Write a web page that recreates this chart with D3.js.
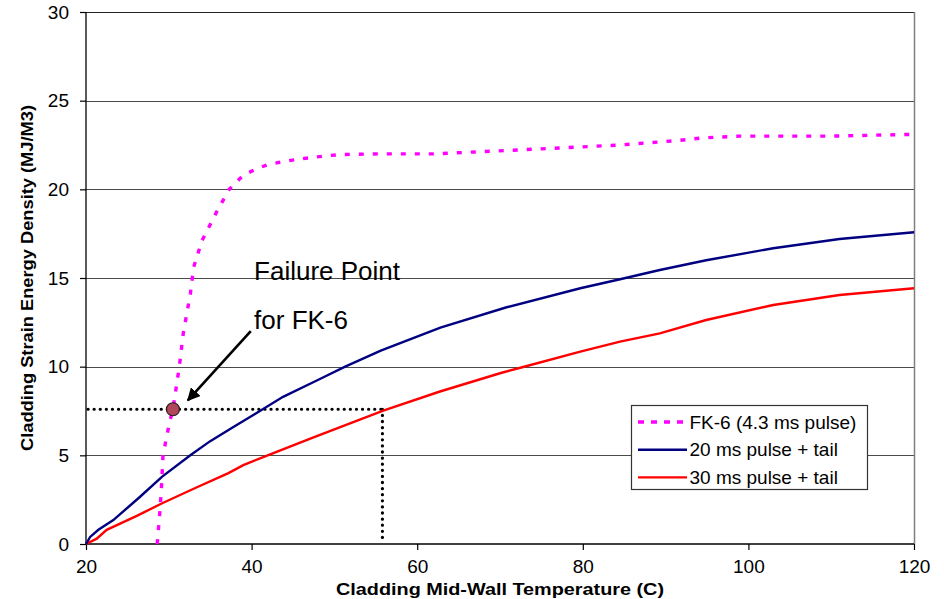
<!DOCTYPE html>
<html>
<head>
<meta charset="utf-8">
<script src="https://cdn.jsdelivr.net/npm/d3@7"></script>
<style>
  html, body { margin: 0; padding: 0; background: #fff; }
  svg { display: block; font-family: Arial, "Liberation Sans", sans-serif; }
</style>
</head>
<body>
<svg id="chart" width="944" height="599"></svg>
<script>
// ---------------- data ----------------
const xTicks = [20, 40, 60, 80, 100, 120];
const yTicks = [0, 5, 10, 15, 20, 25, 30];

const fk6Temp = [28.6, 28.9, 29.1, 29.3, 30.06, 30.5, 31.27, 31.75, 32.6, 33.0, 34.0, 35.8, 37.3, 39.0, 40.8, 42.0, 43.8, 45.6, 47.4, 49.2, 50.7, 55.5, 62, 69, 78, 84.5, 91.4, 94.5, 99, 110, 120];
const fk6Sed  = [0, 1.7, 3.05, 5.0, 6.8, 7.6, 10.0, 11.9, 14.1, 15.6, 17.1, 18.75, 20.0, 20.8, 21.2, 21.4, 21.56, 21.7, 21.8, 21.9, 21.96, 22.0, 22.0, 22.15, 22.35, 22.5, 22.75, 22.9, 23.0, 23.0, 23.1];

const p20Temp = [20, 20.5, 21.5, 23.3, 26.5, 29.2, 32.6, 35, 37.8, 41, 43.8, 48, 51.3, 55.6, 62.8, 70.8, 79.7, 84.5, 89.3, 94.9, 103, 111, 120];
const p20Sed  = [0, 0.4, 0.8, 1.35, 2.65, 3.8, 5.0, 5.8, 6.6, 7.5, 8.3, 9.25, 10.0, 10.9, 12.2, 13.35, 14.42, 14.93, 15.45, 16.0, 16.68, 17.2, 17.58];

const p30Temp = [20, 21.3, 22.5, 26.2, 29.2, 33.4, 37.2, 39, 41.4, 47.4, 55.9, 62.75, 70, 72.8, 79.7, 84.5, 89.3, 94.9, 103, 111, 120];
const p30Sed  = [0, 0.3, 0.8, 1.6, 2.3, 3.2, 4.0, 4.45, 4.9, 6.0, 7.52, 8.6, 9.63, 9.98, 10.85, 11.41, 11.88, 12.63, 13.48, 14.04, 14.42];

const seriesNames = ["FK-6 (4.3 ms pulse)", "20 ms pulse + tail", "30 ms pulse + tail"];

// failure point annotation (data coordinates)
const failPoint = [30.5, 7.6];
const failGuideX = 55.8;
const arrowFrom = [39.9, 12.0];
const arrowTo = [32.3, 8.1];
const noteLines = ["Failure Point", "for FK-6"];
const noteAnchor = [40.3, 14.9];
const noteLineGap = 2.75;

const xTitle = "Cladding Mid-Wall Temperature (C)";
const yTitle = "Cladding Strain Energy Density (MJ/M3)";

// ---------------- layout ----------------
const svg = d3.select("#chart");
const L = 86, R = 914, T = 12, B = 544;
const x = d3.scaleLinear().domain([20, 120]).range([L, R]);
const y = d3.scaleLinear().domain([0, 30]).range([B, T]);

// gridlines
svg.append("g").selectAll("line").data(yTicks.filter(d => d > 0 && d < 30)).join("line")
  .attr("x1", L).attr("x2", R)
  .attr("y1", d => Math.round(y(d)) + 0.5).attr("y2", d => Math.round(y(d)) + 0.5)
  .attr("stroke", "#4a4a4a").attr("stroke-width", 1);

// plot frame top & right
svg.append("line").attr("x1", L).attr("x2", R).attr("y1", Math.round(y(30)) + 0.5).attr("y2", Math.round(y(30)) + 0.5)
  .attr("stroke", "#222").attr("stroke-width", 1.2);
svg.append("line").attr("x1", R + 0.5).attr("x2", R + 0.5).attr("y1", y(30)).attr("y2", y(0))
  .attr("stroke", "#808080").attr("stroke-width", 1.5);

// axes
const yAxis = d3.axisLeft(y).tickValues(yTicks).tickSize(6).tickPadding(11).tickFormat(d3.format("d"));
const gy = svg.append("g").attr("transform", `translate(${L},0)`).call(yAxis);
const xAxis = d3.axisBottom(x).tickValues(xTicks).tickSize(6).tickPadding(10).tickFormat(d3.format("d"));
const gx = svg.append("g").attr("transform", `translate(0,${B})`).call(xAxis);
[gx, gy].forEach(g => {
  g.select(".domain").attr("stroke", "#000").attr("stroke-width", 1.3);
  g.selectAll(".tick line").attr("stroke", "#000").attr("stroke-width", 1.2);
  g.selectAll(".tick text").attr("fill", "#000").style("font-size", "19px")
    .style("font-family", "Arial, 'Liberation Sans', sans-serif");
});
gy.select(".domain").attr("d", `M0,${y(30)}V${y(0)}`);
gx.select(".domain").attr("d", `M${x(20)},0H${x(120)}`);

// axis titles
svg.append("text").attr("x", (L + R) / 2).attr("y", 595).attr("text-anchor", "middle")
  .attr("font-weight", "bold").attr("font-size", 16.5)
  .attr("textLength", 328).attr("lengthAdjust", "spacingAndGlyphs").text(xTitle);
svg.append("text").attr("transform", `translate(33,${278}) rotate(-90)`).attr("text-anchor", "middle")
  .attr("font-weight", "bold").attr("font-size", 17)
  .attr("textLength", 346).attr("lengthAdjust", "spacingAndGlyphs").text(yTitle);

// guide dotted lines
const dotted = svg.append("g").attr("stroke", "#000").attr("stroke-width", 3.2)
  .attr("stroke-linecap", "round").attr("stroke-dasharray", "0.1,6").attr("fill", "none");
dotted.append("path").attr("d", d3.line()([[x(20) + 2, y(failPoint[1])], [x(failGuideX), y(failPoint[1])]]));
dotted.append("path").attr("d", d3.line()([[x(failGuideX), y(failPoint[1])], [x(failGuideX), y(0) - 3]]));

// series
const line = d3.line().x(d => x(d[0])).y(d => y(d[1])).curve(d3.curveLinear);
const zip = (a, b) => a.map((v, i) => [v, b[i]]);

svg.append("path").datum(zip(p30Temp, p30Sed)).attr("d", line)
  .attr("fill", "none").attr("stroke", "#ff0000").attr("stroke-width", 2.4);
svg.append("path").datum(zip(p20Temp, p20Sed)).attr("d", line)
  .attr("fill", "none").attr("stroke", "#000080").attr("stroke-width", 2.4);
svg.append("path").datum(zip(fk6Temp, fk6Sed)).attr("d", line)
  .attr("fill", "none").attr("stroke", "#ff00ff").attr("stroke-width", 3.4)
  .attr("stroke-dasharray", "5,9");

// failure point marker
svg.append("circle").attr("cx", x(failPoint[0])).attr("cy", y(failPoint[1])).attr("r", 6.5)
  .attr("fill", "#b0475a").attr("stroke", "#2a1a1e").attr("stroke-width", 1.2);

// arrow
const defs = svg.append("defs");
defs.append("marker").attr("id", "ah").attr("viewBox", "0 0 10 10").attr("refX", 9).attr("refY", 5)
  .attr("markerWidth", 5).attr("markerHeight", 5).attr("orient", "auto").attr("markerUnits", "strokeWidth")
  .append("path").attr("d", "M0,0L10,5L0,10Z").attr("fill", "#000");
svg.append("line").attr("x1", x(arrowFrom[0])).attr("y1", y(arrowFrom[1]))
  .attr("x2", x(arrowTo[0])).attr("y2", y(arrowTo[1]))
  .attr("stroke", "#000").attr("stroke-width", 2.6).attr("marker-end", "url(#ah)");

// note text
svg.append("g").selectAll("text").data(noteLines).join("text")
  .attr("x", x(noteAnchor[0])).attr("y", (d, i) => y(noteAnchor[1] - i * noteLineGap))
  .attr("font-size", 26).attr("fill", "#000").text(d => d);

// legend
const lg = svg.append("g").attr("transform", "translate(631,405)");
lg.append("rect").attr("x", 0.5).attr("y", 0.5).attr("width", 236).attr("height", 84)
  .attr("fill", "#fff").attr("stroke", "#333").attr("stroke-width", 1.2);
const lstyles = [
  { c: "#ff00ff", w: 3.4, dash: "6,7" },
  { c: "#000080", w: 2.4, dash: null },
  { c: "#ff0000", w: 2.4, dash: null }
];
seriesNames.forEach((name, i) => {
  const cy = 17 + i * 27.7;
  lg.append("line").attr("x1", 7).attr("x2", 56).attr("y1", cy).attr("y2", cy)
    .attr("stroke", lstyles[i].c).attr("stroke-width", lstyles[i].w)
    .attr("stroke-dasharray", lstyles[i].dash);
  lg.append("text").attr("x", 58.5).attr("y", cy + 6.5).attr("font-size", 19).attr("fill", "#000").text(name);
});
</script>
</body>
</html>
